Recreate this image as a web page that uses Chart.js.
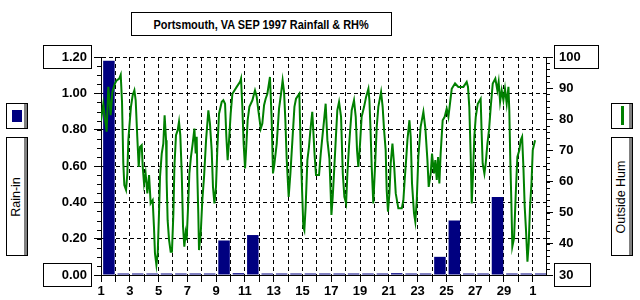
<!DOCTYPE html>
<html>
<head>
<meta charset="utf-8">
<script src="https://cdn.jsdelivr.net/npm/chart.js@4.4.0/dist/chart.umd.min.js"></script>
<style>
  body { margin: 0; background: #fff; }
  #wrap { position: relative; width: 640px; height: 300px; overflow: hidden; font-family: 'Liberation Sans', Arial, sans-serif; }
  #chart { position: absolute; left: 0; top: 0; }
  .box { position: absolute; box-sizing: border-box; border: 1px solid #000; background: #fff; }
  .title { left: 131px; top: 12px; width: 261px; height: 24px; display: flex; align-items: center; justify-content: center; }
  .title span { font-weight: bold; font-size: 13px; white-space: nowrap; transform: scaleX(0.84); }
  .btn { box-shadow: inset -3px 0 0 #808080; }
  .swatch { top: 103px; width: 22px; height: 26px; }
  .side { top: 137px; width: 22px; height: 119px; }
  .side span { position: absolute; left: 9px; top: 59px; font-size: 12.5px; white-space: nowrap; transform: translate(-50%, -50%) rotate(-90deg); }
  .rainMark { position: absolute; left: 5px; top: 6px; width: 10px; height: 12px; background: #000080; }
  .humMark { position: absolute; left: 9px; top: 2px; width: 3px; height: 19px; background: #008000; }
</style>
</head>
<body>
<div id="wrap">
  <canvas id="chart" width="640" height="300"></canvas>
  <div class="box title"><span>Portsmouth, VA SEP 1997 Rainfall &amp; RH%</span></div>
  <div class="box btn swatch" style="left:6px"><div class="rainMark"></div></div>
  <div class="box btn side" style="left:6px"><span>Rain-in</span></div>
  <div class="box btn swatch" style="left:611px"><div class="humMark"></div></div>
  <div class="box btn side" style="left:611px"><span>Outside Hum</span></div>
</div>
<script>
// day-of-month labels for the 31 day boundaries (Sep 1 .. Oct 1)
const dayLabels = ['1', '2', '3', '4', '5', '6', '7', '8', '9', '10', '11', '12', '13', '14', '15',
  '16', '17', '18', '19', '20', '21', '22', '23', '24', '25', '26', '27', '28', '29', '30', '1'];

// daily rainfall, inches (Sep 1 .. Oct 1)
const rainIn = [1.18, 0, 0, 0, 0, 0, 0, 0, 0.19, 0.01, 0.22, 0, 0, 0, 0, 0,
  0, 0, 0, 0, 0.01, 0, 0, 0.10, 0.30, 0, 0, 0.43, 0, 0, 0];

// outside humidity readings: time in days since Sep 1 00:00, and RH %
const humTime = [
  0, 0.16, 0.39, 0.51, 0.67, 0.79, 0.97, 1.09, 1.27, 1.37,
  1.46, 1.55, 1.62, 1.74, 1.83, 1.90, 1.97, 2.08, 2.20, 2.32,
  2.41, 2.52, 2.62, 2.71, 2.83, 2.90, 2.99, 3.10, 3.22, 3.34,
  3.45, 3.59, 3.68, 3.75, 3.85, 3.94, 4.03, 4.10, 4.22, 4.33,
  4.42, 4.52, 4.56, 4.63, 4.73, 4.84, 4.93, 5.03, 5.10, 5.21,
  5.33, 5.42, 5.51, 5.61, 5.70, 5.79, 5.88, 5.95, 6.05, 6.14,
  6.25, 6.37, 6.49, 6.58, 6.65, 6.69, 6.76, 6.81, 6.93, 7.04,
  7.16, 7.30, 7.46, 7.57, 7.69, 7.78, 7.88, 7.99, 8.08, 8.20,
  8.39, 8.50, 8.62, 8.71, 8.80, 8.90, 9.01, 9.13, 9.43, 9.66,
  9.73, 9.82, 9.91, 10.01, 10.08, 10.19, 10.31, 10.52, 10.70, 10.82,
  10.93, 11.10, 11.21, 11.33, 11.44, 11.56, 11.74, 11.86, 11.95, 12.05,
  12.21, 12.37, 12.51, 12.62, 12.72, 12.81, 12.90, 13.04, 13.16, 13.30,
  13.44, 13.55, 13.78, 13.88, 13.97, 14.06, 14.13, 14.22, 14.34, 14.45,
  14.55, 14.68, 14.85, 14.94, 15.15, 15.27, 15.36, 15.50, 15.61, 15.73,
  15.87, 15.96, 16.01, 16.10, 16.19, 16.31, 16.42, 16.54, 16.68, 16.80,
  16.91, 17.03, 17.12, 17.23, 17.33, 17.42, 17.58, 17.70, 17.79, 17.88,
  18.00, 18.11, 18.28, 18.42, 18.58, 18.65, 18.72, 18.81, 18.92, 19.04,
  19.16, 19.27, 19.46, 19.57, 19.67, 19.78, 19.85, 19.94, 20.04, 20.13,
  20.25, 20.36, 20.48, 20.66, 20.90, 21.01, 21.10, 21.20, 21.29, 21.43,
  21.52, 21.61, 21.75, 21.84, 21.94, 22.05, 22.21, 22.40, 22.54, 22.68,
  22.77, 22.91, 23.00, 23.14, 23.23, 23.33, 23.42, 23.51, 23.60, 23.74,
  23.88, 24.02, 24.14, 24.37, 24.60, 24.83, 25.18, 25.41, 25.50, 25.59,
  25.69, 25.76, 25.85, 25.94, 26.04, 26.18, 26.38, 26.45, 26.52, 26.64,
  26.73, 26.85, 26.96, 27.08, 27.22, 27.40, 27.54, 27.63, 27.73, 27.84,
  27.96, 28.07, 28.19, 28.31, 28.37, 28.44, 28.51, 28.58, 28.70, 28.82,
  28.93, 29.07, 29.16, 29.26, 29.35, 29.44, 29.53, 29.63, 29.72, 29.81,
  29.91, 30.00, 30.16
];
const humValue = [
  79.4, 85.0, 76.0, 90.4, 81.3, 88.8, 91.5, 92.5, 93.1, 94.3,
  85.6, 65.8, 58.9, 57.3, 62.6, 73.3, 77.6, 84.0, 87.7, 89.3,
  86.1, 74.4, 64.7, 71.1, 71.7, 64.7, 59.4, 62.6, 56.2, 62.1,
  53.0, 54.0, 45.5, 36.9, 33.2, 36.9, 49.8, 61.5, 69.0, 72.2,
  81.3, 73.3, 60.5, 47.6, 41.2, 37.5, 37.5, 49.8, 64.7, 74.9,
  76.5, 79.2, 74.9, 62.6, 45.5, 39.1, 43.4, 41.2, 51.9, 62.6,
  67.9, 72.2, 77.0, 69.0, 74.4, 62.6, 49.8, 38.0, 43.4, 54.0,
  61.5, 73.3, 82.9, 78.6, 70.1, 58.3, 53.0, 58.3, 70.1, 81.8,
  85.6, 86.1, 85.0, 74.4, 66.9, 73.3, 81.8, 88.2, 90.4, 92.0,
  93.1, 84.0, 72.2, 64.2, 70.1, 79.7, 84.0, 86.1, 89.3, 87.2,
  82.9, 77.0, 78.6, 84.5, 86.6, 88.2, 93.6, 79.7, 62.6, 65.8,
  72.2, 83.4, 88.2, 92.5, 88.8, 79.7, 67.4, 55.1, 62.6, 73.3,
  84.0, 86.6, 88.2, 70.1, 57.3, 45.5, 44.4, 51.9, 66.9, 71.1,
  76.5, 82.4, 67.9, 62.1, 62.1, 69.0, 73.3, 79.7, 85.0, 73.3,
  67.4, 56.2, 49.3, 55.1, 62.6, 73.3, 82.9, 85.6, 80.8, 62.6,
  55.1, 53.0, 62.6, 71.1, 77.6, 82.9, 86.1, 80.8, 70.1, 64.7,
  72.2, 80.8, 84.0, 87.2, 89.8, 86.1, 77.6, 64.7, 53.0, 64.7,
  77.6, 84.0, 88.8, 84.0, 76.5, 70.1, 57.3, 50.3, 56.2, 65.8,
  72.2, 65.8, 56.2, 51.4, 51.4, 54.0, 60.5, 66.9, 73.3, 79.7,
  74.4, 59.4, 49.8, 47.1, 54.0, 67.9, 77.6, 82.4, 77.0, 66.9,
  58.3, 62.6, 69.0, 62.6, 66.9, 60.5, 67.9, 59.4, 69.0, 79.7,
  80.8, 83.4, 80.8, 89.8, 91.5, 90.4, 90.4, 92.0, 90.4, 84.0,
  67.9, 53.0, 62.6, 74.4, 80.8, 85.0, 86.6, 75.4, 65.8, 62.6,
  65.8, 72.2, 76.5, 84.0, 91.5, 93.1, 89.3, 92.0, 85.6, 89.3,
  86.1, 89.8, 85.0, 90.4, 82.9, 66.9, 54.0, 39.1, 41.8, 56.2,
  67.9, 70.1, 73.3, 74.4, 64.7, 51.9, 44.4, 34.3, 40.2, 51.9,
  59.4, 70.1, 73.3
];

const BLACK = '#000';
const NAVY = '#000080';
const GREEN = '#008000';
const tickFont = { family: 'Liberation Sans', size: 13, weight: 'bold' };

// short minor ticks between the labelled ones
const minorTicks = {
  id: 'minorTicks',
  afterDraw(chart) {
    const { ctx } = chart;
    const yl = chart.scales.y;
    const yr = chart.scales.y1;
    ctx.save();
    ctx.strokeStyle = BLACK;
    ctx.lineWidth = 1;
    ctx.beginPath();
    for (let i = 0; i <= 24; i++) {
      const py = Math.round(yl.getPixelForValue(i * 0.05)) + 0.5;
      ctx.moveTo(yl.right - 4, py);
      ctx.lineTo(yl.right, py);
    }
    for (let v = 30; v <= 100; v += 2) {
      const py = Math.round(yr.getPixelForValue(v)) + 0.5;
      ctx.moveTo(yr.left, py);
      ctx.lineTo(yr.left + 4, py);
    }
    ctx.stroke();
    ctx.restore();
  },
};

// boxes round the min / max labels of both value axes
const endLabelBoxes = {
  id: 'endLabelBoxes',
  afterDraw(chart) {
    const { ctx } = chart;
    const yl = chart.scales.y;
    const yr = chart.scales.y1;
    ctx.save();
    ctx.strokeStyle = BLACK;
    ctx.lineWidth = 1;
    ctx.font = `bold ${tickFont.size}px ${tickFont.family}`;
    [yl.min, yl.max].forEach((v) => {
      const py = Math.round(yl.getPixelForValue(v));
      ctx.strokeRect(yl.right - 57.5, py - 11.5, 48, 23);
    });
    [yr.min, yr.max].forEach((v) => {
      const py = Math.round(yr.getPixelForValue(v));
      const w = Math.round(ctx.measureText(String(v)).width) + 22;
      ctx.strokeRect(yr.left + 8.5, py - 11.5, w, 23);
    });
    ctx.restore();
  },
};

new Chart(document.getElementById('chart'), {
  type: 'bar',
  data: {
    datasets: [
      {
        type: 'line',
        label: 'Outside Hum',
        data: humTime.map((t, i) => ({ x: t, y: humValue[i] })),
        yAxisID: 'y1',
        borderColor: GREEN,
        borderWidth: 2,
        pointRadius: 0,
        tension: 0,
        order: 1,
      },
      {
        label: 'Rain-in',
        // each day's bar sits inside that day's cell
        data: rainIn.map((r, i) => ({ x: i + 0.55, y: r })),
        yAxisID: 'y',
        backgroundColor: NAVY,
        borderWidth: 0,
        barPercentage: 0.8,
        categoryPercentage: 1,
        minBarLength: 1.5,
        order: 2,
      },
    ],
  },
  options: {
    responsive: false,
    animation: false,
    events: [],
    layout: { padding: { top: 57, left: 0, right: 0, bottom: 0 } },
    plugins: { legend: { display: false }, tooltip: { enabled: false } },
    scales: {
      x: {
        type: 'linear',
        min: 0,
        max: 30.92,
        offset: false,
        grid: { offset: false, color: BLACK, tickColor: BLACK, tickLength: 7 },
        border: { display: true, color: BLACK, width: 1, dash: [4, 3] },
        ticks: {
          stepSize: 1,
          autoSkip: false,
          maxRotation: 0,
          maxTicksLimit: 40,
          includeBounds: false,
          padding: 2,
          color: BLACK,
          font: tickFont,
          callback: (v) => (v % 2 === 0 ? dayLabels[v] : ''),
        },
        afterFit: (s) => { s.height = 25; },
      },
      y: {
        position: 'left',
        min: 0,
        max: 1.2,
        grid: { color: BLACK, tickColor: BLACK, tickLength: 7 },
        border: { display: true, color: BLACK, width: 1, dash: [4, 3] },
        ticks: { stepSize: 0.2, padding: 7, color: BLACK, font: tickFont, callback: (v) => v.toFixed(2) },
        afterFit: (s) => { s.width = 101; },
      },
      y1: {
        position: 'right',
        min: 30,
        max: 100,
        grid: { drawOnChartArea: false, tickColor: BLACK, tickLength: 7 },
        border: { display: true, color: BLACK, width: 1 },
        ticks: { stepSize: 10, padding: 6, color: BLACK, font: tickFont },
        afterFit: (s) => { s.width = 94; },
      },
    },
  },
  plugins: [minorTicks, endLabelBoxes],
});
</script>
</body>
</html>
